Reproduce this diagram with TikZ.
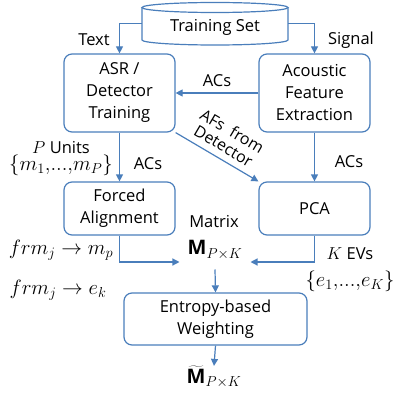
\documentclass[tikz,border=0pt]{standalone}
\usepackage{fontspec}
\setmainfont{Open Sans}
\usetikzlibrary{arrows.meta}
\definecolor{flowblue}{RGB}{74,126,187}

\begin{document}
\begin{tikzpicture}[x=1pt,y=-1pt]
		\tikzstyle{every node}=[font=\fontsize{16.5}{22}\selectfont]
		\tikzstyle{proc}=[draw=flowblue, line width=1.2pt, rounded corners=8pt, align=center, minimum width=111pt, inner sep=2pt]
		\tikzstyle{arr}=[draw=flowblue, line width=1.2pt, -{Triangle[length=7pt,width=7pt]}]
		\tikzstyle{mth}=[inner sep=0pt, font=\fontsize{20}{24}\selectfont]
		\useasboundingbox (0,0) rectangle (397,401);
		% training set drum
		\node [minimum width=146pt, minimum height=43pt, inner sep=0pt] (train) at (215,23.5) {};
		\draw [flowblue, line width=1.2pt] (215,7.5) ellipse [x radius=73pt, y radius=5pt];
		\draw [flowblue, line width=1.2pt] (142,7.5) -- (142,40) arc [start angle=180, end angle=360, x radius=73pt, y radius=5pt] -- (288,7.5);
		\node (traintxt) at (215,27) {Training Set};
		% boxes
		\node [proc, minimum height=78pt] (asr) at (119.5,93) {ASR /\\Detector\\Training};
		\node [proc, minimum height=78pt] (afe) at (314.5,93) {Acoustic\\Feature\\Extraction};
		\node [proc, minimum height=53pt] (fa) at (119.5,208.5) {Forced\\Alignment};
		\node [proc, minimum height=53pt] (pca) at (314.5,208.5) {PCA};
		\node [proc, minimum width=183pt, minimum height=52pt] (ent) at (215.5,319) {Entropy-based\\Weighting};
		% labels
		\node (text) at (94,40) {Text};
		\node (signal) at (351,40) {Signal};
		\node (punits) at (61,148) {$P$ Units};
		\node [mth] (mset) at (61,165) {$\{m_1,\!...,\!m_P\}$};
		\node (acsl) at (148,164) {ACs};
		\node (acsr) at (349,162) {ACs};
		\node (matrix) at (214,222) {Matrix};
		\node [mth] (mat) at (215,250) {$\mathbf{M}_{P\times K}$};
		\node [mth] (frmm) at (61,250) {$frm_j \rightarrow m_p$};
		\node [mth] (frme) at (58,290) {$frm_j \rightarrow e_k$};
		\node (kevs) at (350,254) {$K$ EVs};
		\node [mth] (eset) at (350,281) {$\{e_1,\!...,\!e_K\}$};
		\node [mth] (mt) at (214,377) {$\widetilde{\mathbf{M}\vphantom{M}}_{P\times K}$};
		% connectors
		\draw [arr] (train.west) -| (asr.north);
		\draw [arr] (train.east) -| (afe.north);
		\draw [arr] (afe.west) -- node [above=2pt] {ACs} (asr.east);
		\draw [arr] (asr.south east) -- node [midway, sloped, above=3pt, align=center, font=\fontsize{16}{17}\selectfont] {AFs~~from\\Detector} (pca.north west);
		\draw [arr] (asr.south) -- (fa.north);
		\draw [arr] (afe.south) -- (pca.north);
		\draw [arr] (fa.south) |- ([xshift=-8pt,yshift=-12pt]mat.west);
		\draw [arr] (pca.south) |- ([xshift=8pt,yshift=-12pt]mat.east);
		\draw [arr] ([yshift=-10pt]mat.south) -- (ent.north);
		\draw [arr] (ent.south) -- (mt.north);
		\end{tikzpicture}
\end{document}
